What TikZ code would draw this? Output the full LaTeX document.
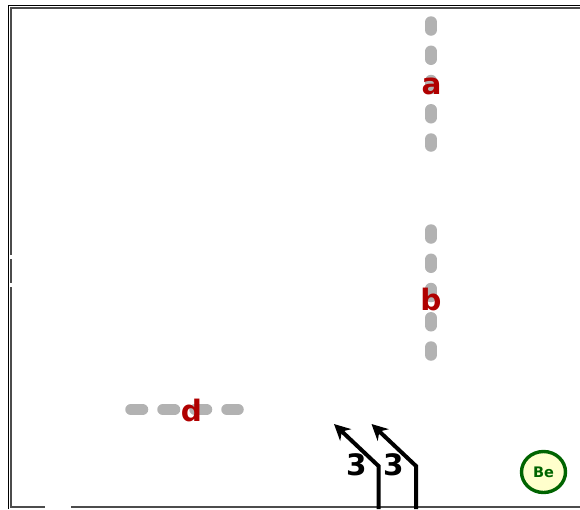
\documentclass[tikz,border=0pt]{standalone}
\usepackage{fontspec}
\setmainfont{DejaVu Sans}
\usetikzlibrary{arrows.meta, positioning, shapes.geometric}
\definecolor{labelred}{HTML}{B00000}
\definecolor{bondgray}{HTML}{B2B2B2}
\definecolor{atomgreen}{HTML}{006400}
\definecolor{atomfill}{HTML}{FFFFCC}

\begin{document}
\begin{tikzpicture}[x=1pt, y=-1pt,
    rim/.style = {draw=black, line width=1.1pt},
    bond/.style = {draw=bondgray, line width=11.5pt, line cap=round},
    vbond/.style = {bond, dash pattern=on 8pt off 21.25pt},
    hbond/.style = {bond, dash pattern=on 11.5pt off 20.5pt},
    tag/.style = {font=\fontsize{29.5}{29.5}\selectfont\bfseries, text=labelred, inner sep=0pt},
    count/.style = {font=\fontsize{29.5}{29.5}\selectfont\bfseries, text=black, inner sep=0pt},
    vec/.style = {draw=black, line width=4pt, line join=miter, -{Stealth[length=16pt, width=16pt]}},
    atom/.style = {draw=atomgreen, fill=atomfill, line width=3.4pt, ellipse, minimum width=44pt, minimum height=41pt, inner sep=0pt, font=\fontsize{14.5}{14.5}\selectfont\bfseries, text=atomgreen}]
    \useasboundingbox (0,0) rectangle (580,509);
    % frame
    \coordinate (O1) at (8.5,509); \coordinate (O2) at (8.5,5.5); \coordinate (O3) at (580,5.5);
    \coordinate (I1) at (11,255); \coordinate (I2) at (11,8); \coordinate (I3) at (580,8);
    \coordinate (I4) at (11,259); \coordinate (I5) at (11,283); \coordinate (I6) at (11,287); \coordinate (I7) at (11,507);
    \coordinate (B1) at (45,507); \coordinate (B2) at (71,507); \coordinate (B3) at (580,507);
    \draw[rim] (O1)--(O2)--(O3);
    \draw[rim, draw=black!70] (I1)--(I2)--(I3); \draw[rim, draw=black!70] (I4)--(I5); \draw[rim, draw=black!70] (I6)--(I7)--(B1);
    \draw[rim, draw=black!70, line width=1.5pt] (B2)--(B3);
    % bonds
    \coordinate (A1) at (431,22); \coordinate (A2) at (431,146);
    \coordinate (C1) at (431,230); \coordinate (C2) at (431,355);
    \coordinate (D1) at (131,409.5); \coordinate (D2) at (238,409.5);
    \draw[vbond] (A1)--(A2); \draw[vbond] (C1)--(C2); \draw[hbond] (D1)--(D2);
    \node[tag] (a) at (431.5,86.5) {a}; \node[tag] (b) at (431,299.5) {b}; \node[tag] (d) at (191.5,410) {d};
    % vectors
    \coordinate (V1) at (378.5,509); \coordinate (V2) at (378.5,466); \coordinate (V3) at (334,424);
    \coordinate (W1) at (416,509); \coordinate (W2) at (416,466); \coordinate (W3) at (371.5,424);
    \draw[vec] (V1)--(V2)--(V3); \draw[vec] (W1)--(W2)--(W3);
    \node[count] (n1) at (356.5,465) {3}; \node[count] (n2) at (393.5,465) {3};
    \node[atom] (Be) at (543.5,472) {Be};
\end{tikzpicture}
\end{document}
